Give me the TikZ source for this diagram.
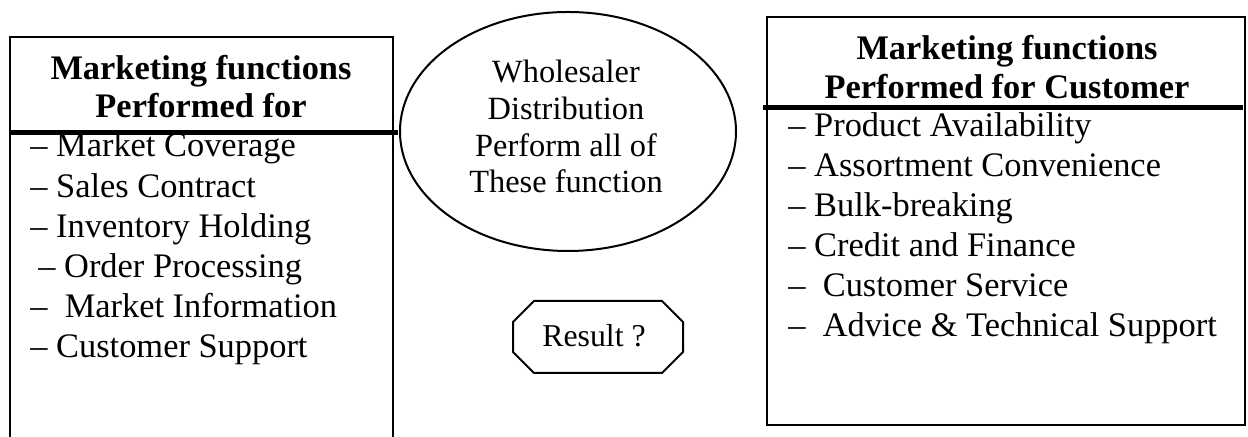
\documentclass[tikz,border=0pt]{standalone}
\usepackage{fontspec}
\setmainfont{Liberation Serif}
\begin{document}
\begin{tikzpicture}[x=0.5pt,y=-0.5pt,
  frame/.style={line width=1pt},
  rule/.style={line width=2.5pt},
  head/.style={font=\fontsize{17.2}{20}\selectfont\bfseries, anchor=base, inner sep=0pt},
  item/.style={font=\fontsize{17.2}{20}\selectfont, anchor=base west, inner sep=0pt},
  mid/.style={font=\fontsize{16.2}{19}\selectfont, anchor=base, inner sep=0pt}]
\useasboundingbox (0,0) rectangle (1248,437);

% left panel: functions performed for the supplier
\draw[frame] (10,440) -- (10,37) -- (393,37) -- (393,440);
\draw[rule] (10,133) -- (398,133);
\node[head] (lh1) at (201,80) {Marketing functions};
\node[head] (lh2) at (201,118) {Performed for};
\node[item] (l1) at (30,157) {– Market Coverage};
\node[item] (l2) at (30,198) {– Sales Contract};
\node[item] (l3) at (30,238) {– Inventory Holding};
\node[item] (l4) at (38,278) {– Order Processing};
\node[item] (l5) at (30,318) {–\ \ Market Information};
\node[item] (l6) at (30,358) {– Customer Support};

% centre: wholesaler ellipse
\draw[frame] (568,131.5) ellipse [x radius=168, y radius=119.5];
\node[mid] (w1) at (566,83) {Wholesaler};
\node[mid] (w2) at (566,120) {Distribution};
\node[mid] (w3) at (566,157) {Perform all of};
\node[mid] (w4) at (566,193) {These function};

% centre: result octagon
\draw[frame] (534,301) -- (662,301) -- (683,322) -- (683,352) -- (662,373)
  -- (534,373) -- (513,352) -- (513,322) -- cycle;
\node[mid, font=\fontsize{15.9}{19}\selectfont] (res) at (594,347) {Result ?};

% right panel: functions performed for the customer
\draw[frame] (767,17) rectangle (1245,425);
\draw[rule] (763,108) -- (1243,108);
\node[head] (rh1) at (1007,60) {Marketing functions};
\node[head] (rh2) at (1007,99) {Performed for Customer};
\node[item] (r1) at (788,137) {– Product Availability};
\node[item] (r2) at (788,177) {– Assortment Convenience};
\node[item] (r3) at (788,217) {– Bulk-breaking};
\node[item] (r4) at (788,257) {– Credit and Finance};
\node[item] (r5) at (788,297) {–\ \ Customer Service};
\node[item] (r6) at (788,337) {–\ \ Advice \& Technical Support};
\end{tikzpicture}
\end{document}
